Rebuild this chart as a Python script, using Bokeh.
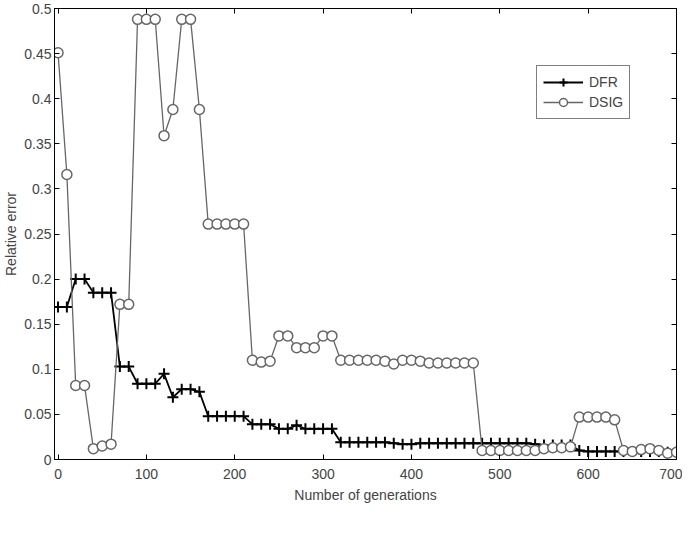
from bokeh.plotting import figure
from bokeh.embed import file_html
from bokeh.resources import INLINE
from bokeh.models import Range1d, FixedTicker, Legend, LegendItem, LinearAxis

gens = list(range(0, 710, 10))
dfr = [0.169, 0.169, 0.2, 0.2, 0.185, 0.185, 0.185, 0.103, 0.103, 0.084,
       0.084, 0.084, 0.095, 0.069, 0.078, 0.078, 0.075, 0.048, 0.048, 0.048,
       0.048, 0.048, 0.039, 0.039, 0.039, 0.034, 0.034, 0.038, 0.034, 0.034,
       0.034, 0.034, 0.019, 0.019, 0.019, 0.019, 0.019, 0.019, 0.018, 0.017,
       0.017, 0.018, 0.018, 0.018, 0.018, 0.018, 0.018, 0.018, 0.018, 0.018,
       0.018, 0.018, 0.018, 0.018, 0.017, 0.016, 0.016, 0.016, 0.016, 0.010,
       0.009, 0.009, 0.009, 0.009, 0.009, 0.009, 0.009, 0.009, 0.009, 0.008,
       0.008]
dsig = [0.451, 0.316, 0.082, 0.082, 0.012, 0.015, 0.017, 0.172, 0.172, 0.488,
        0.488, 0.488, 0.359, 0.388, 0.488, 0.488, 0.388, 0.261, 0.261, 0.261,
        0.261, 0.261, 0.110, 0.108, 0.109, 0.137, 0.137, 0.124, 0.124, 0.124,
        0.137, 0.137, 0.110, 0.110, 0.110, 0.110, 0.110, 0.109, 0.106, 0.110,
        0.110, 0.109, 0.107, 0.107, 0.107, 0.107, 0.107, 0.107, 0.010, 0.010,
        0.010, 0.010, 0.010, 0.010, 0.010, 0.012, 0.013, 0.013, 0.014, 0.047,
        0.047, 0.047, 0.047, 0.044, 0.010, 0.009, 0.011, 0.012, 0.010, 0.007,
        0.008]
xticks = [0, 100, 200, 300, 400, 500, 600, 700]
yticks = [0, 0.05, 0.1, 0.15, 0.2, 0.25, 0.3, 0.35, 0.4, 0.45, 0.5]

p = figure(width=682, height=529, output_backend="svg", toolbar_location=None,
           x_range=Range1d(-4, 700), y_range=Range1d(0, 0.5),
           min_border_left=30, min_border_right=6, min_border_top=8, min_border_bottom=70)
p.background_fill_color = "white"
p.border_fill_color = "white"
p.grid.visible = False
p.outline_line_color = "black"
p.outline_line_width = 1

for ax in (p.xaxis[0], p.yaxis[0]):
    ax.major_tick_in = 5
    ax.major_tick_out = 0
    ax.minor_tick_line_color = None
    ax.major_label_text_font = "Liberation Sans"
    ax.major_label_text_font_size = "14px"
    ax.axis_label_text_font = "Liberation Sans"
    ax.axis_label_text_font_size = "14px"
    ax.axis_label_text_font_style = "normal"
    ax.axis_line_color = "black"
    ax.major_label_standoff = 3
    ax.axis_label_standoff = 2
p.xaxis.major_label_standoff = 9
p.xaxis.axis_label_standoff = 5
p.xaxis.ticker = FixedTicker(ticks=xticks)
p.yaxis.ticker = FixedTicker(ticks=yticks)
p.xaxis.axis_label = "Number of generations"
p.yaxis.axis_label = "Relative error"

top = LinearAxis(ticker=FixedTicker(ticks=xticks), major_label_overrides={t: "" for t in xticks},
                 major_tick_in=5, major_tick_out=0, minor_tick_line_color=None,
                 major_label_standoff=0)
right = LinearAxis(ticker=FixedTicker(ticks=yticks), major_label_overrides={t: "" for t in yticks},
                   major_tick_in=5, major_tick_out=0, minor_tick_line_color=None,
                   major_label_standoff=0)
p.add_layout(top, "above")
p.add_layout(right, "right")

l1 = p.line(gens, dfr, line_color="black", line_width=1.8)
m1 = p.scatter(gens, dfr, marker="cross", size=11, line_color="black", line_width=2)
l2 = p.line(gens, dsig, line_color="#666666", line_width=1.3)
m2 = p.scatter(gens, dsig, marker="circle", size=10, line_color="#666666",
               fill_color="white", line_width=1.5)

legend = Legend(items=[LegendItem(label="DFR", renderers=[l1, m1]),
                       LegendItem(label="DSIG", renderers=[l2, m2])],
                location=(482, 340), label_text_font="Liberation Sans",
                label_text_font_size="14px", border_line_color="black",
                glyph_width=40, spacing=0, padding=6, label_standoff=6)
p.add_layout(legend, "center")

open("out.html", "w").write(file_html(p, INLINE))
